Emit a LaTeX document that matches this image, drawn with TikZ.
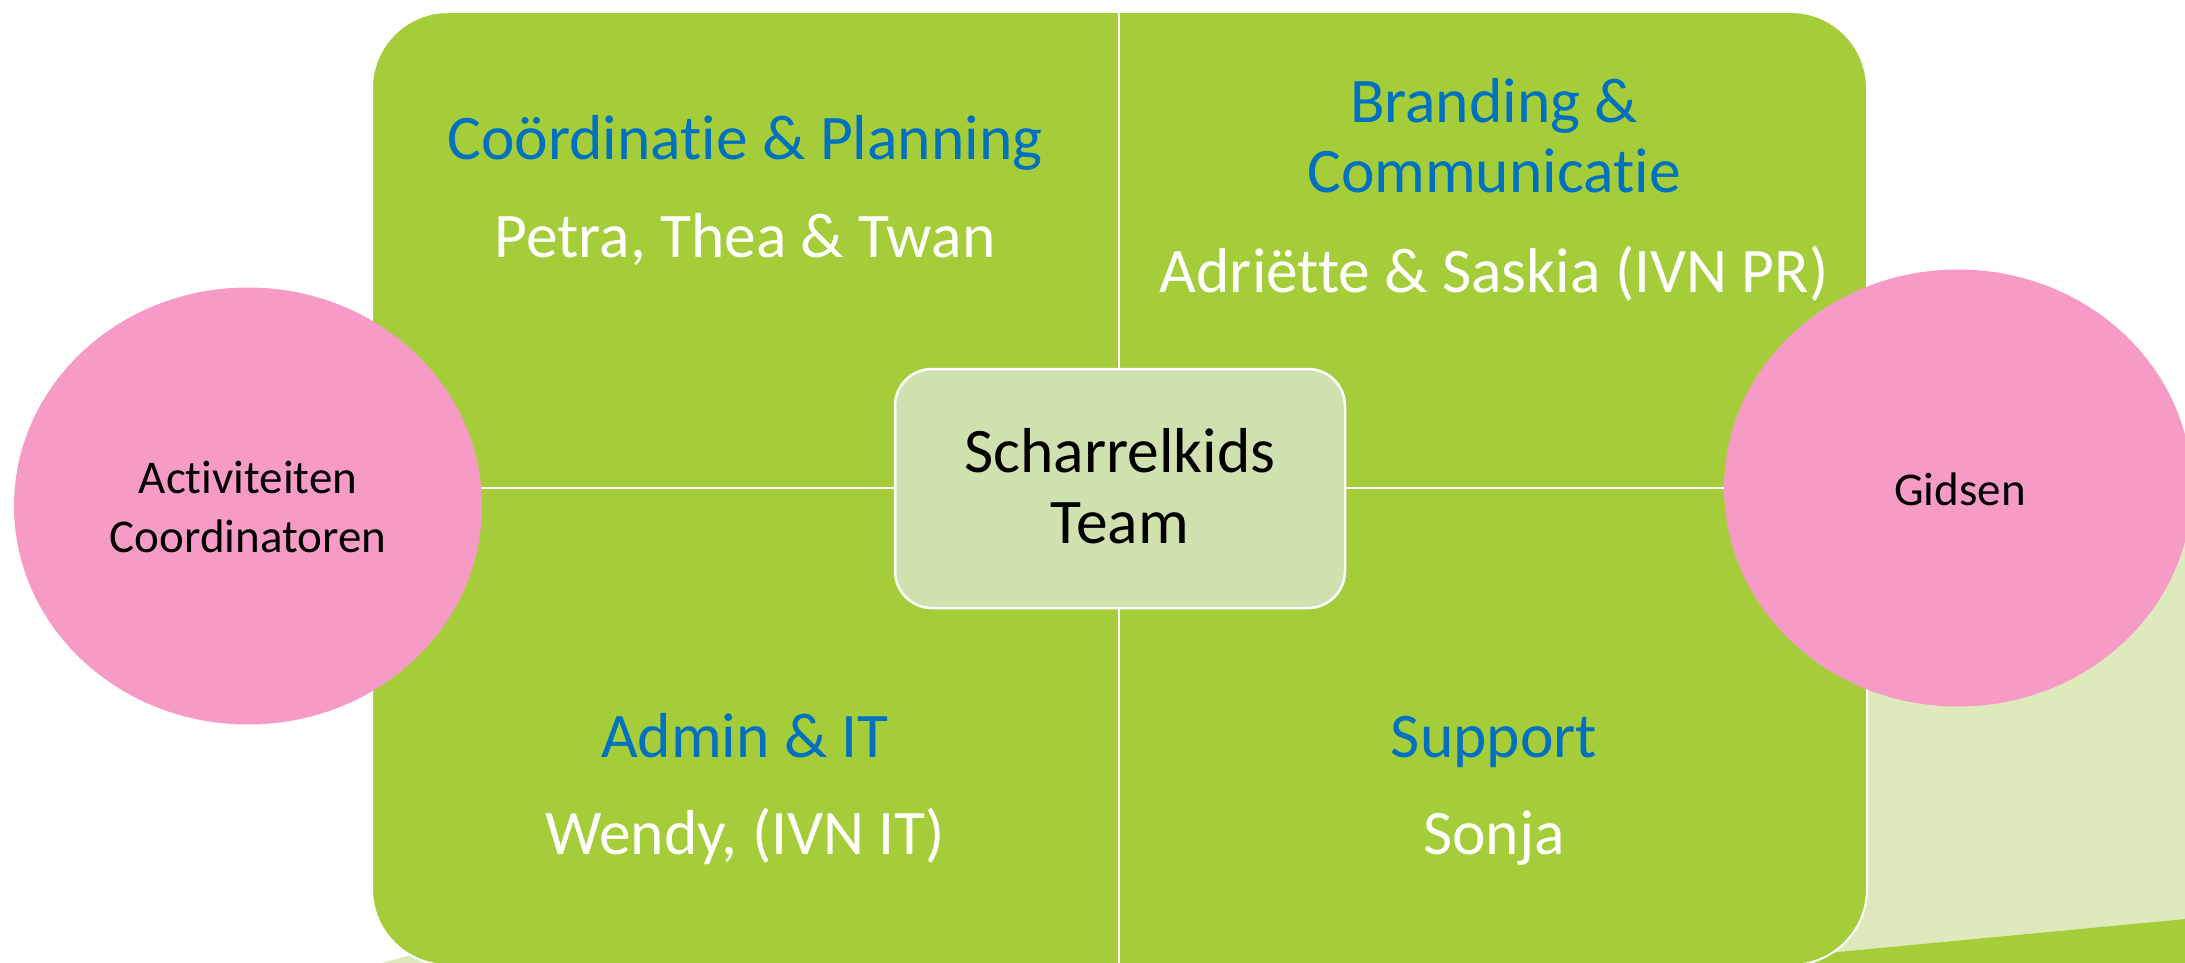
\documentclass[tikz,border=0pt]{standalone}
\usepackage{fontspec}
\setmainfont{Carlito}[Ligatures=NoCommon]
\usetikzlibrary{shapes.geometric}
\definecolor{mgreen}{RGB}{164,205,57}
\definecolor{pale}{RGB}{223,234,188}
\definecolor{boxg}{RGB}{206,225,175}
\definecolor{pinkc}{RGB}{246,155,198}
\definecolor{headblue}{RGB}{0,112,192}
\begin{document}
\begin{tikzpicture}[x=1pt,y=-1pt,
  head/.style={text=headblue, font=\fontsize{63.5}{70}\selectfont, anchor=base, inner sep=0pt},
  body/.style={text=white, font=\fontsize{63.5}{70}\selectfont, anchor=base, inner sep=0pt},
  centre/.style={text=black, font=\fontsize{63.5}{70}\selectfont, anchor=base, inner sep=0pt},
  small/.style={text=black, font=\fontsize{47}{58}\selectfont, anchor=base, inner sep=0pt},
  bubble/.style={ellipse, fill=pinkc, minimum width=468pt, minimum height=437pt, inner sep=0pt},
  divider/.style={draw=white, line width=2.5pt}]
\useasboundingbox (0,0) rectangle (2185,963);
% background floor shapes
\fill[pale] (378,964) -- (1700,600) -- (1900,470) -- (2185,470) -- (2185,919) -- (1837,952) -- (1700,966) -- (378,966) -- cycle;
\fill[mgreen] (1700,965.5) -- (1837,952) -- (2185,919) -- (2185,970) -- (1700,970) -- cycle;
% main matrix
\draw[fill=mgreen, draw=white, line width=2pt, rounded corners=76pt] (372,12) rectangle (1867,965);
\coordinate (vtop) at (1119,12);
\coordinate (vbot) at (1119,965);
\coordinate (hleft) at (372,488);
\coordinate (hright) at (1867,488);
\draw[divider] (vtop) -- (vbot);
\draw[divider] (hleft) -- (hright);
% centre box
\node[draw=white, line width=2.5pt, fill=boxg, rounded corners=37pt, minimum width=450pt, minimum height=239pt, inner sep=0pt] (team) at (1120,488.5) {};
\node[centre] (teamA) at (1120,472) {Scharrelkids};
\node[centre] (teamB) at (1120,543) {Team};
% quadrant texts
\node[head] (coordh) at (745,160) {Coördinatie \& Planning};
\node[body] (coordb) at (745,257) {Petra, Thea \& Twan};
\node[head] (brandh1) at (1494,123) {Branding \&};
\node[head] (brandh2) at (1494,193) {Communicatie};
\node[body] (brandb) at (1494,292) {Adriëtte \& Saskia (IVN PR)};
\node[head] (adminh) at (745,757) {Admin \& IT};
\node[body] (adminb) at (745,854) {Wendy, (IVN IT)};
\node[head] (supph) at (1494,757) {Support};
\node[body] (suppb) at (1494,854) {Sonja};
% side bubbles
\node[bubble] (act) at (248,506) {};
\node[small] (actA) at (248,493) {Activiteiten};
\node[small] (actB) at (248,552) {Coordinatoren};
\node[bubble] (gids) at (1958,488) {};
\node[small] (gidsT) at (1960,505) {Gidsen};
\end{tikzpicture}
\end{document}
